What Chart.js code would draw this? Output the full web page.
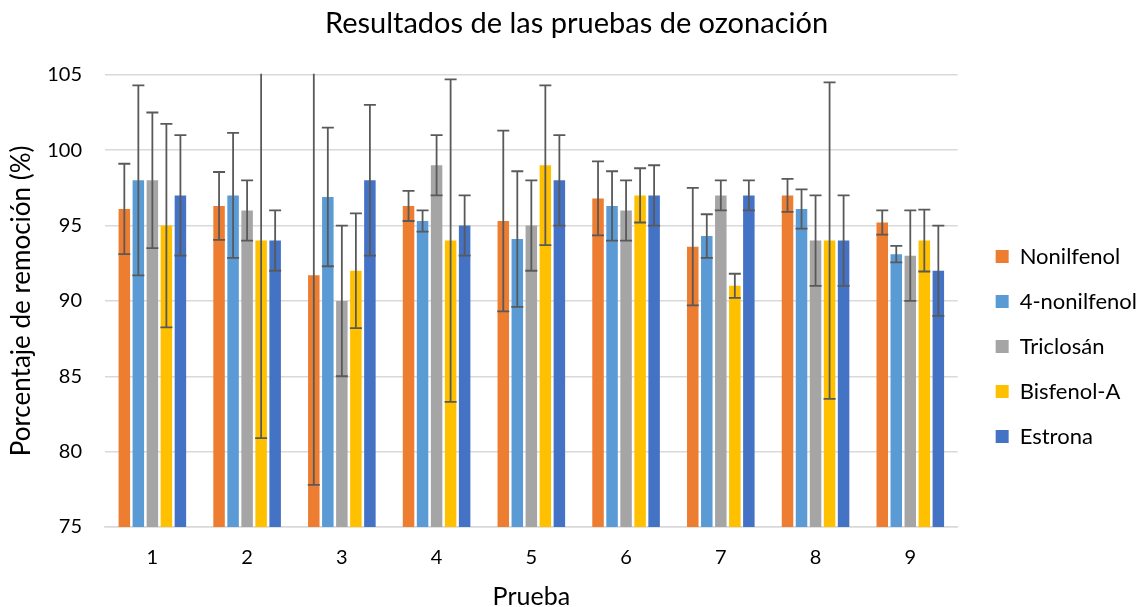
<!DOCTYPE html>
<html>
<head>
<meta charset="utf-8">
<script src="https://cdn.jsdelivr.net/npm/chart.js@4.4.1/dist/chart.umd.min.js"></script>
<style>
  html, body { margin: 0; padding: 0; background: #fff; }
  #grafico { display: block; }
</style>
</head>
<body>
<canvas id="grafico" width="1138" height="607"></canvas>
<script>
// ================== DATOS ==================
const pruebas = ["1", "2", "3", "4", "5", "6", "7", "8", "9"];
const compuestos = ["Nonilfenol", "4-nonilfenol", "Triclosán", "Bisfenol-A", "Estrona"];

const nonilfenol    = [96.1, 96.3, 91.7, 96.3, 95.3, 96.8, 93.6, 97.0, 95.2];
const cuatroNonil   = [98.0, 97.0, 96.9, 95.3, 94.1, 96.3, 94.3, 96.1, 93.1];
const triclosan     = [98.0, 96.0, 90.0, 99.0, 95.0, 96.0, 97.0, 94.0, 93.0];
const bisfenolA     = [95.0, 94.0, 92.0, 94.0, 99.0, 97.0, 91.0, 94.0, 94.0];
const estrona       = [97.0, 94.0, 98.0, 95.0, 98.0, 97.0, 97.0, 94.0, 92.0];

// desviaciones (barras de error +/-)
const errNonilfenol  = [3.0, 2.25, 13.9, 1.0, 6.0, 2.45, 3.9, 1.1, 0.8];
const errCuatroNonil = [6.3, 4.15, 4.6, 0.7, 4.5, 2.3, 1.45, 1.3, 0.55];
const errTriclosan   = [4.5, 2.0, 5.0, 2.0, 3.0, 2.0, 1.0, 3.0, 3.0];
const errBisfenolA   = [6.75, 13.1, 3.8, 10.7, 5.3, 1.8, 0.8, 10.5, 2.05];
const errEstrona     = [4.0, 2.0, 5.0, 2.0, 3.0, 2.0, 1.0, 3.0, 3.0];

const ticksY = [75, 80, 85, 90, 95, 100, 105];

const colores = ["#ED7D31", "#5B9BD5", "#A5A5A5", "#FFC000", "#4472C4"];
const series = [nonilfenol, cuatroNonil, triclosan, bisfenolA, estrona];
const errores = [errNonilfenol, errCuatroNonil, errTriclosan, errBisfenolA, errEstrona];

const fuente = "Lato, 'Open Sans', sans-serif";

// ================== PLUGIN BARRAS DE ERROR ==================
const barrasError = {
  id: "barrasError",
  afterDatasetsDraw(chart) {
    const ctx = chart.ctx;
    const y = chart.scales.y;
    const area = chart.chartArea;
    ctx.save();
    ctx.beginPath();
    ctx.rect(area.left, area.top - 1, area.right - area.left, area.bottom - area.top + 2);
    ctx.clip();
    ctx.strokeStyle = "#595959";
    ctx.lineWidth = 1.8;
    chart.data.datasets.forEach((ds, d) => {
      const meta = chart.getDatasetMeta(d);
      meta.data.forEach((barra, i) => {
        const v = ds.data[i];
        const e = errores[d][i];
        const yTop = y.getPixelForValue(v + e);
        const yBot = y.getPixelForValue(v - e);
        const x = barra.x;
        const cap = 6;
        ctx.beginPath();
        ctx.moveTo(x, yTop); ctx.lineTo(x, yBot);
        if (v + e <= y.max) { ctx.moveTo(x - cap, yTop); ctx.lineTo(x + cap, yTop); }
        ctx.moveTo(x - cap, yBot); ctx.lineTo(x + cap, yBot);
        ctx.stroke();
      });
    });
    ctx.restore();
  }
};

// ================== GRÁFICO ==================
const ctx = document.getElementById("grafico").getContext("2d");
let grafico = new Chart(ctx, {
  type: "bar",
  data: {
    labels: pruebas,
    datasets: series.map((s, i) => ({
      label: compuestos[i],
      data: s,
      backgroundColor: colores[i],
      categoryPercentage: 0.74,
      barPercentage: 0.82
    }))
  },
  options: {
    responsive: false,
    animation: false,
    layout: { padding: { left: 6, right: -9, top: 0, bottom: 0 } },
    plugins: {
      title: {
        display: true,
        text: "Resultados de las pruebas de ozonación",
        color: "#000",
        font: { family: fuente, size: 29, weight: "normal" },
        padding: { top: 6, bottom: 34 }
      },
      legend: {
        position: "right",
        title: { display: true, text: "", font: { size: 10, lineHeight: 1 }, padding: { top: 76, bottom: 0 } },
        labels: {
          color: "#000",
          font: { family: fuente, size: 22 },
          boxWidth: 13,
          boxHeight: 13,
          padding: 23
        }
      },
      tooltip: { enabled: false }
    },
    scales: {
      x: {
        grid: { display: false, drawTicks: false },
        border: { color: "#d9d9d9", width: 1.5 },
        ticks: { color: "#000", font: { family: fuente, size: 20 }, padding: 19 },
        title: {
          display: true,
          text: "Prueba",
          color: "#000",
          font: { family: fuente, size: 25, lineHeight: 0.8 },
          padding: { top: -2, bottom: 0 }
        }
      },
      y: {
        min: 75,
        max: 105,
        afterBuildTicks(axis) { axis.ticks = ticksY.map(v => ({ value: v })); },
        grid: { color: "#d9d9d9", lineWidth: 1.5, drawTicks: false },
        border: { display: false },
        ticks: { color: "#000", font: { family: fuente, size: 20 }, padding: 23 },
        title: {
          display: true,
          text: "Porcentaje de remoción (%)",
          color: "#000",
          font: { family: fuente, size: 26 },
          padding: { top: 0, bottom: -13 }
        }
      },
      // espacio vacío entre el área del gráfico y la leyenda
      espacio: {
        type: "linear",
        position: "right",
        display: true,
        grid: { display: false, drawTicks: false },
        border: { display: false },
        ticks: { display: false },
        afterFit(escala) { escala.width = 15; }
      }
    }
  },
  plugins: [barrasError]
});
</script>
</body>
</html>
